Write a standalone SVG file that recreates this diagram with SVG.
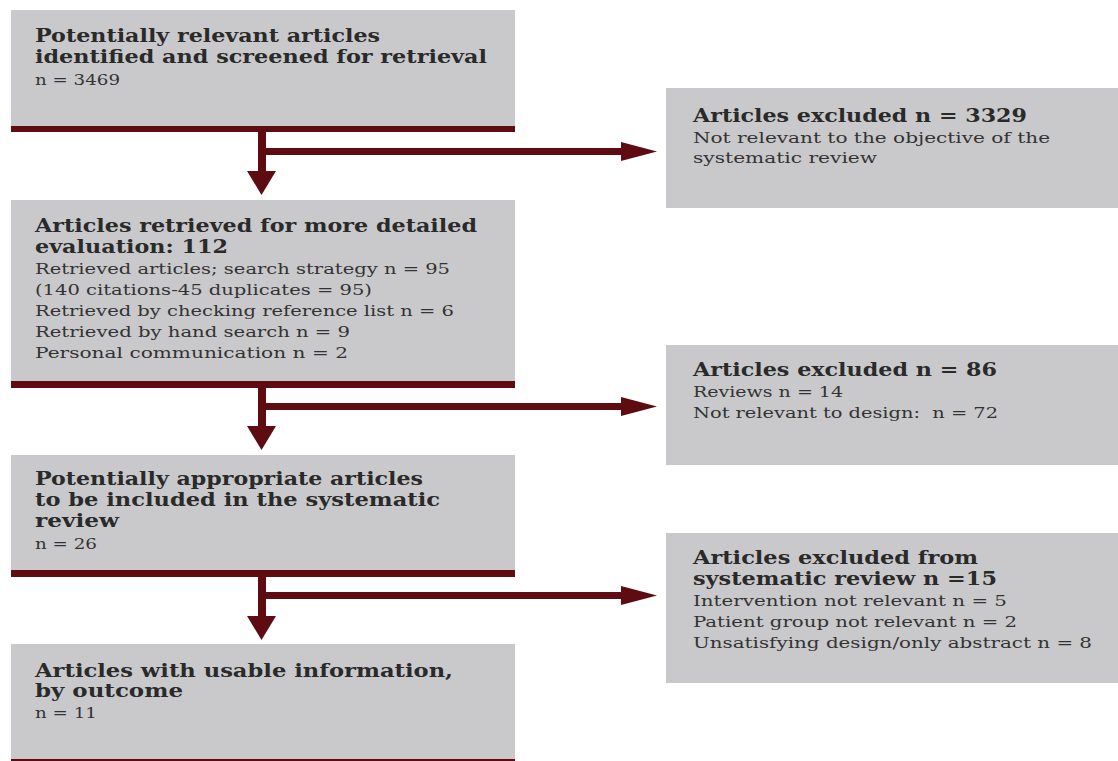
<svg xmlns="http://www.w3.org/2000/svg" width="1118" height="761" viewBox="0 0 1118 761">
<defs>
<style>
.box{fill:#c9c9cb}
.bar{fill:#5e0c12}
.t{font-family:"DejaVu Serif","Liberation Serif",serif;font-weight:bold;font-size:18.5px;fill:#2a2a2a}
.b{font-family:"DejaVu Serif","Liberation Serif",serif;font-size:14px;fill:#333}
.c{fill:#5e0c12}
</style>
</defs>
<rect width="1118" height="761" fill="#fff"/>

<g id="node-identified">
<rect class="box" x="11" y="10" width="504" height="117"/>
<rect class="bar" x="11" y="126" width="504" height="6"/>
<text class="t" x="35" y="42" textLength="345" lengthAdjust="spacingAndGlyphs">Potentially relevant articles</text>
<text class="t" x="35" y="63" textLength="452" lengthAdjust="spacingAndGlyphs">identified and screened for retrieval</text>
<text class="b" x="35" y="85" textLength="85" lengthAdjust="spacingAndGlyphs">n = 3469</text>
</g>

<g id="node-excluded-3329">
<rect class="box" x="666" y="88" width="452" height="120"/>
<text class="t" x="693" y="122" textLength="334" lengthAdjust="spacingAndGlyphs">Articles excluded n = 3329</text>
<text class="b" x="693" y="143" textLength="357" lengthAdjust="spacingAndGlyphs">Not relevant to the objective of the</text>
<text class="b" x="693" y="163" textLength="184" lengthAdjust="spacingAndGlyphs">systematic review</text>
</g>

<g id="node-retrieved">
<rect class="box" x="11" y="200" width="504" height="182"/>
<rect class="bar" x="11" y="381" width="504" height="7"/>
<text class="t" x="35" y="232" textLength="442" lengthAdjust="spacingAndGlyphs">Articles retrieved for more detailed</text>
<text class="t" x="35" y="253" textLength="193" lengthAdjust="spacingAndGlyphs">evaluation: 112</text>
<text class="b" x="35" y="274" textLength="415" lengthAdjust="spacingAndGlyphs">Retrieved articles; search strategy n = 95</text>
<text class="b" x="35" y="295" textLength="337" lengthAdjust="spacingAndGlyphs">(140 citations-45 duplicates = 95)</text>
<text class="b" x="35" y="316" textLength="419" lengthAdjust="spacingAndGlyphs">Retrieved by checking reference list n = 6</text>
<text class="b" x="35" y="337" textLength="315" lengthAdjust="spacingAndGlyphs">Retrieved by hand search n = 9</text>
<text class="b" x="35" y="358" textLength="313" lengthAdjust="spacingAndGlyphs">Personal communication n = 2</text>
</g>

<g id="node-excluded-86">
<rect class="box" x="666" y="345" width="452" height="120"/>
<text class="t" x="693" y="376" textLength="304" lengthAdjust="spacingAndGlyphs">Articles excluded n = 86</text>
<text class="b" x="693" y="397" textLength="150" lengthAdjust="spacingAndGlyphs">Reviews n = 14</text>
<text class="b" x="693" y="418" textLength="305" lengthAdjust="spacingAndGlyphs" xml:space="preserve">Not relevant to design:  n = 72</text>
</g>

<g id="node-appropriate">
<rect class="box" x="11" y="455" width="504" height="116"/>
<rect class="bar" x="11" y="570" width="504" height="7"/>
<text class="t" x="35" y="485" textLength="388" lengthAdjust="spacingAndGlyphs">Potentially appropriate articles</text>
<text class="t" x="35" y="506" textLength="405" lengthAdjust="spacingAndGlyphs">to be included in the systematic</text>
<text class="t" x="35" y="527" textLength="84" lengthAdjust="spacingAndGlyphs">review</text>
<text class="b" x="35" y="549" textLength="62" lengthAdjust="spacingAndGlyphs">n = 26</text>
</g>

<g id="node-excluded-15">
<rect class="box" x="666" y="533" width="452" height="150"/>
<text class="t" x="693" y="564" textLength="285" lengthAdjust="spacingAndGlyphs">Articles excluded from</text>
<text class="t" x="693" y="585" textLength="304" lengthAdjust="spacingAndGlyphs">systematic review n =15</text>
<text class="b" x="693" y="606" textLength="314" lengthAdjust="spacingAndGlyphs">Intervention not relevant n = 5</text>
<text class="b" x="693" y="627" textLength="324" lengthAdjust="spacingAndGlyphs">Patient group not relevant n = 2</text>
<text class="b" x="693" y="648" textLength="399" lengthAdjust="spacingAndGlyphs">Unsatisfying design/only abstract n = 8</text>
</g>

<g id="node-usable">
<rect class="box" x="11" y="644" width="504" height="116"/>
<rect class="bar" x="11" y="759" width="504" height="2"/>
<text class="t" x="35" y="677" textLength="418" lengthAdjust="spacingAndGlyphs">Articles with usable information,</text>
<text class="t" x="35" y="697" textLength="148" lengthAdjust="spacingAndGlyphs">by outcome</text>
<text class="b" x="35" y="718" textLength="62" lengthAdjust="spacingAndGlyphs">n = 11</text>
</g>

<g id="connectors">
<rect class="c" x="258" y="131" width="8" height="41"/>
<polygon class="c" points="247,171 276,171 261.5,195"/>
<rect class="c" x="266" y="148" width="357" height="7"/>
<polygon class="c" points="621,142 657,151.5 621,161"/>

<rect class="c" x="258" y="387" width="8" height="40"/>
<polygon class="c" points="247,426 276,426 261.5,450"/>
<rect class="c" x="266" y="403" width="357" height="7"/>
<polygon class="c" points="621,397 657,406.5 621,416"/>

<rect class="c" x="258" y="576" width="8" height="41"/>
<polygon class="c" points="247,616 276,616 261.5,640"/>
<rect class="c" x="266" y="592" width="357" height="7"/>
<polygon class="c" points="621,586 657,595.5 621,605"/>
</g>
</svg>
